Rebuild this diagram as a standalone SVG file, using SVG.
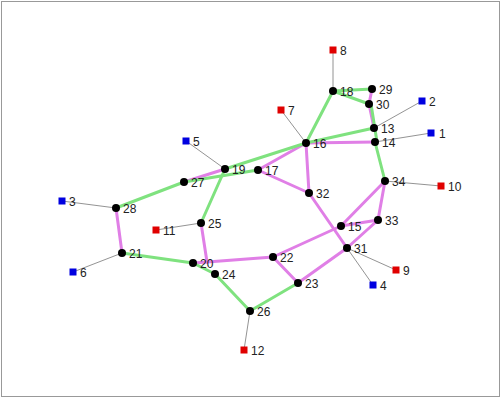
<svg xmlns="http://www.w3.org/2000/svg" width="501" height="398" viewBox="0 0 501 398">
<style>
.g{stroke:#7fe27f;stroke-width:3;fill:none;stroke-linecap:round}
.p{stroke:#e07fe6;stroke-width:3;fill:none;stroke-linecap:round}
.t{stroke:#777;stroke-width:0.8;fill:none}
.n{fill:#000}
.r{fill:#e00000}
.b{fill:#0000e0}
text{font-family:"Liberation Sans",Arial,sans-serif;font-size:12px;fill:#222}
</style>
<rect x="1.5" y="1.5" width="498" height="395" fill="#fff" stroke="#999" stroke-width="1"/>
<g id="connectors">
<line class="t" x1="333" y1="50" x2="333" y2="91"/>
<line class="t" x1="281" y1="110" x2="306" y2="143"/>
<line class="t" x1="422" y1="101" x2="374" y2="128"/>
<line class="t" x1="431" y1="133" x2="375" y2="142"/>
<line class="t" x1="186" y1="141" x2="225" y2="169"/>
<line class="t" x1="62" y1="201" x2="116" y2="208"/>
<line class="t" x1="156" y1="230" x2="201" y2="223"/>
<line class="t" x1="73" y1="272" x2="122" y2="253"/>
<line class="t" x1="441" y1="186" x2="385" y2="181"/>
<line class="t" x1="396" y1="270" x2="347" y2="248"/>
<line class="t" x1="373" y1="285" x2="347" y2="248"/>
<line class="t" x1="244" y1="350" x2="250" y2="311"/>
<line class="p" x1="372" y1="89" x2="369" y2="104"/>
<line class="p" x1="369" y1="104" x2="374" y2="128"/>
<line class="p" x1="306" y1="143" x2="375" y2="142"/>
<line class="p" x1="306" y1="143" x2="258" y2="170"/>
<line class="p" x1="306" y1="143" x2="309" y2="193"/>
<line class="p" x1="258" y1="170" x2="309" y2="193"/>
<line class="p" x1="225" y1="169" x2="184" y2="182"/>
<line class="p" x1="309" y1="193" x2="347" y2="248"/>
<line class="p" x1="385" y1="181" x2="341" y2="226"/>
<line class="p" x1="341" y1="226" x2="273" y2="257"/>
<line class="p" x1="385" y1="181" x2="378" y2="220"/>
<line class="p" x1="378" y1="220" x2="341" y2="226"/>
<line class="p" x1="378" y1="220" x2="347" y2="248"/>
<line class="p" x1="347" y1="248" x2="298" y2="283"/>
<line class="p" x1="273" y1="257" x2="298" y2="283"/>
<line class="p" x1="273" y1="257" x2="194" y2="263"/>
<line class="p" x1="201" y1="223" x2="207" y2="262"/>
<line class="p" x1="116" y1="208" x2="122" y2="253"/>
<line class="g" x1="333" y1="91" x2="372" y2="89"/>
<line class="g" x1="333" y1="91" x2="369" y2="104"/>
<line class="g" x1="333" y1="91" x2="306" y2="143"/>
<line class="g" x1="371" y1="104" x2="377" y2="142"/>
<line class="g" x1="375" y1="142" x2="385" y2="181"/>
<line class="g" x1="306" y1="143" x2="374" y2="128"/>
<line class="g" x1="306" y1="143" x2="225" y2="169"/>
<line class="g" x1="184" y1="182" x2="258" y2="170"/>
<line class="g" x1="184" y1="182" x2="116" y2="208"/>
<line class="g" x1="225" y1="169" x2="201" y2="223"/>
<line class="g" x1="122" y1="253" x2="193" y2="263"/>
<line class="g" x1="193" y1="263" x2="215" y2="274"/>
<line class="g" x1="215" y1="274" x2="250" y2="311"/>
<line class="g" x1="250" y1="311" x2="298" y2="283"/>
</g>
<g id="n1"><rect class="b" x="427.5" y="129.5" width="7" height="7"/><text x="439" y="138">1</text></g>
<g id="n2"><rect class="b" x="418.5" y="97.5" width="7" height="7"/><text x="429" y="106">2</text></g>
<g id="n3"><rect class="b" x="58.5" y="197.5" width="7" height="7"/><text x="69" y="206">3</text></g>
<g id="n4"><rect class="b" x="369.5" y="281.5" width="7" height="7"/><text x="380" y="290">4</text></g>
<g id="n5"><rect class="b" x="182.5" y="137.5" width="7" height="7"/><text x="193" y="146">5</text></g>
<g id="n6"><rect class="b" x="69.5" y="268.5" width="7" height="7"/><text x="80" y="277">6</text></g>
<g id="n7"><rect class="r" x="277.5" y="106.5" width="7" height="7"/><text x="288" y="115">7</text></g>
<g id="n8"><rect class="r" x="329.5" y="46.5" width="7" height="7"/><text x="340" y="55">8</text></g>
<g id="n9"><rect class="r" x="392.5" y="266.5" width="7" height="7"/><text x="403" y="275">9</text></g>
<g id="n10"><rect class="r" x="437.5" y="182.5" width="7" height="7"/><text x="448" y="191">10</text></g>
<g id="n11"><rect class="r" x="152.5" y="226.5" width="7" height="7"/><text x="163" y="235">11</text></g>
<g id="n12"><rect class="r" x="240.5" y="346.5" width="7" height="7"/><text x="251" y="355">12</text></g>
<g id="n13"><circle class="n" cx="374" cy="128" r="4"/><text x="381" y="133">13</text></g>
<g id="n14"><circle class="n" cx="375" cy="142" r="4"/><text x="382" y="147">14</text></g>
<g id="n15"><circle class="n" cx="341" cy="226" r="4"/><text x="348" y="231">15</text></g>
<g id="n16"><circle class="n" cx="306" cy="143" r="4"/><text x="313" y="148">16</text></g>
<g id="n17"><circle class="n" cx="258" cy="170" r="4"/><text x="265" y="175">17</text></g>
<g id="n18"><circle class="n" cx="333" cy="91" r="4"/><text x="340" y="96">18</text></g>
<g id="n19"><circle class="n" cx="225" cy="169" r="4"/><text x="232" y="174">19</text></g>
<g id="n20"><circle class="n" cx="193" cy="263" r="4"/><text x="200" y="268">20</text></g>
<g id="n21"><circle class="n" cx="122" cy="253" r="4"/><text x="129" y="258">21</text></g>
<g id="n22"><circle class="n" cx="273" cy="257" r="4"/><text x="280" y="262">22</text></g>
<g id="n23"><circle class="n" cx="298" cy="283" r="4"/><text x="305" y="288">23</text></g>
<g id="n24"><circle class="n" cx="215" cy="274" r="4"/><text x="222" y="279">24</text></g>
<g id="n25"><circle class="n" cx="201" cy="223" r="4"/><text x="208" y="228">25</text></g>
<g id="n26"><circle class="n" cx="250" cy="311" r="4"/><text x="257" y="316">26</text></g>
<g id="n27"><circle class="n" cx="184" cy="182" r="4"/><text x="191" y="187">27</text></g>
<g id="n28"><circle class="n" cx="116" cy="208" r="4"/><text x="123" y="213">28</text></g>
<g id="n29"><circle class="n" cx="372" cy="89" r="4"/><text x="379" y="94">29</text></g>
<g id="n30"><circle class="n" cx="369" cy="104" r="4"/><text x="376" y="109">30</text></g>
<g id="n31"><circle class="n" cx="347" cy="248" r="4"/><text x="354" y="253">31</text></g>
<g id="n32"><circle class="n" cx="309" cy="193" r="4"/><text x="316" y="198">32</text></g>
<g id="n33"><circle class="n" cx="378" cy="220" r="4"/><text x="385" y="225">33</text></g>
<g id="n34"><circle class="n" cx="385" cy="181" r="4"/><text x="392" y="186">34</text></g>
</svg>
